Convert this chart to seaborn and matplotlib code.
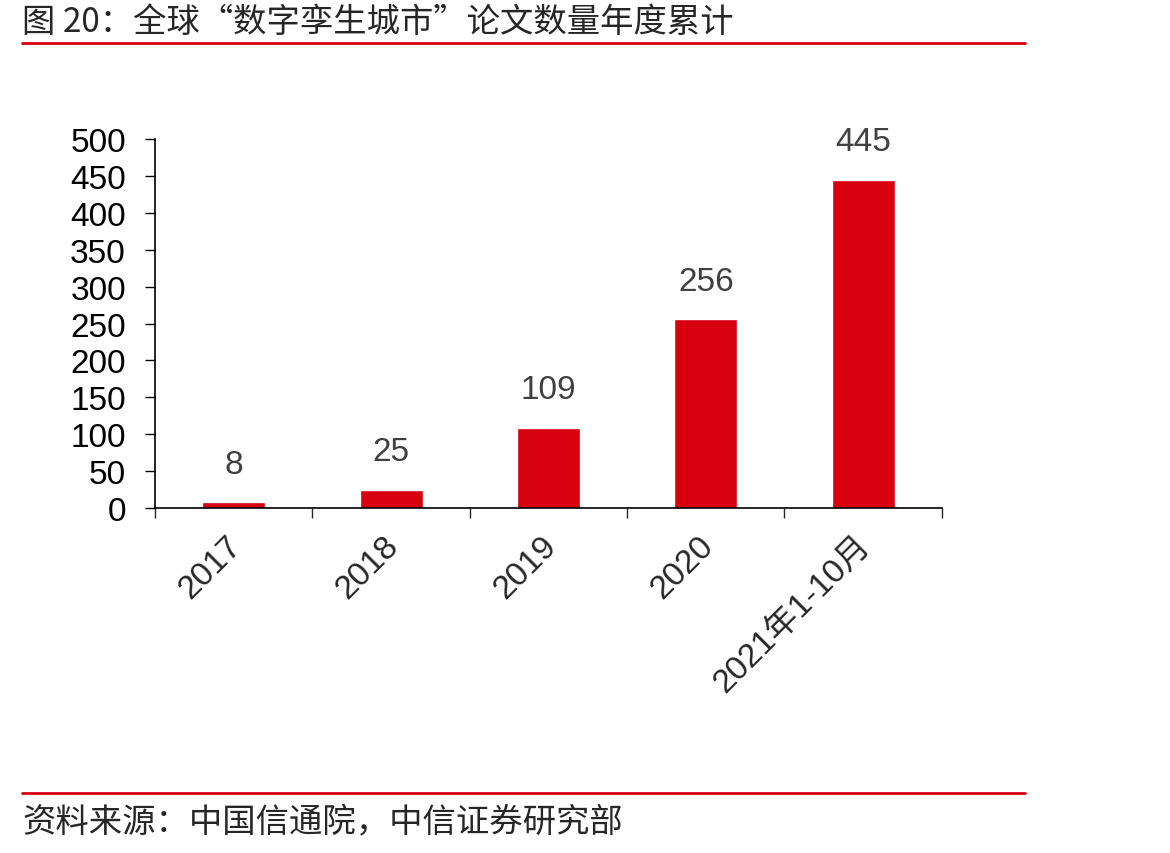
import seaborn as sns
import matplotlib.pyplot as plt
import matplotlib.transforms as mtransforms
import numpy as np
import pandas as pd

years = ['2017', '2018', '2019', '2020', '2021年1-10月']
papers = [8, 25, 109, 256, 445]
title = '图 20：全球“数字孪生城市”论文数量年度累计'
source = '资料来源：中国信通院，中信证券研究部'

sns.set_style('white')
plt.rcParams['font.family'] = ['Liberation Sans', 'Noto Sans CJK SC', 'DejaVu Sans']

df = pd.DataFrame({'year': years, 'n': papers})

fig = plt.figure(figsize=(11.7, 8.54), dpi=100)
ax = fig.add_axes([0.1325, 0.404, 0.6725, 0.432])

sns.barplot(data=df, x='year', y='n', color='#D7000F', width=0.4, saturation=1, ax=ax)

for i, v in enumerate(papers):
    ax.annotate(str(v), (i, v), xytext=(0, 16), textcoords='offset points',
                ha='center', va='bottom', fontsize=24, color='#404040')

ax.set_xlim(-0.5, len(years) - 0.5)
ax.set_ylim(0, 500)
ax.set_yticks(np.arange(0, 501, 50))
ax.set_xlabel('')
ax.set_ylabel('')
for s in ['top', 'right']:
    ax.spines[s].set_visible(False)
for s in ['left', 'bottom']:
    ax.spines[s].set_color('black')
    ax.spines[s].set_linewidth(1.2)

ax.tick_params(axis='y', which='major', left=True, length=7, width=1, direction='out',
               labelsize=24, pad=14, colors='black')
ax.tick_params(axis='x', which='major', bottom=False, labelsize=24, pad=12)
ax.set_xticks(np.arange(-0.5, len(years), 1), minor=True)
ax.tick_params(axis='x', which='minor', bottom=True, length=7, width=1, direction='out')
shift = mtransforms.ScaledTranslation(-8 / 100, 0, fig.dpi_scale_trans)
for lab in ax.get_xticklabels():
    lab.set_rotation(45)
    lab.set_ha('right')
    lab.set_rotation_mode('anchor')
    lab.set_transform(lab.get_transform() + shift)

fig.text(22 / 1170, 1 - 22 / 854, title, fontsize=24, va='center', ha='left',
         family=['Noto Sans CJK SC'])
fig.add_artist(plt.Line2D([22 / 1170, 1025 / 1170], [1 - 44 / 854] * 2, color='#D7000F', lw=2))
fig.add_artist(plt.Line2D([22 / 1170, 1025 / 1170], [1 - 794 / 854] * 2, color='#D7000F', lw=2))
fig.text(22 / 1170, 1 - 823 / 854, source, fontsize=24, va='center', ha='left',
         family=['Noto Sans CJK SC'])

fig.savefig('out.png', dpi=100)
